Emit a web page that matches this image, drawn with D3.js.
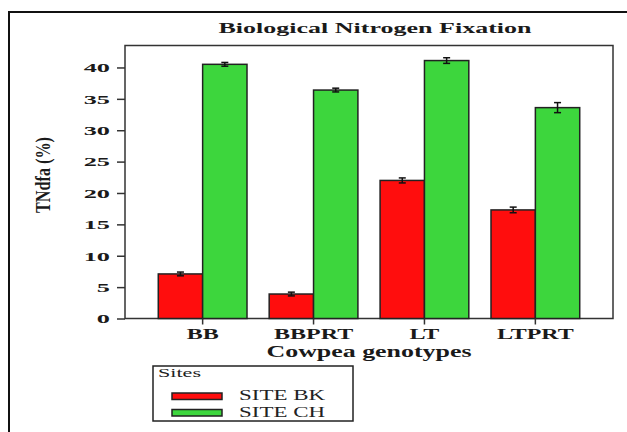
<!DOCTYPE html>
<html>
<head>
<meta charset="utf-8">
<script src="https://cdn.jsdelivr.net/npm/d3@7"></script>
<style>
  html, body { margin: 0; padding: 0; background: #fff; }
  svg { display: block; }
  text { font-family: "Liberation Serif", "DejaVu Serif", serif; }
</style>
</head>
<body>
<svg id="chart" width="627" height="432"></svg>
<script>
// Cowpea genotypes and the two sites
const genotypes = ["BB", "BBPRT", "LT", "LTPRT"];
const sites = ["SITE BK", "SITE CH"];
// TNdfa (%) means per genotype, one array per site
const siteBK = [7.1, 3.9, 22.0, 17.3];
const siteCH = [40.5, 36.4, 41.1, 33.6];
// standard errors
const errBK = [0.3, 0.3, 0.4, 0.45];
const errCH = [0.3, 0.3, 0.45, 0.8];
const yTicks = [0, 5, 10, 15, 20, 25, 30, 35, 40];
const siteColors = ["#ff0d0d", "#3dd63d"];

const svg = d3.select("#chart");

const plot = { left: 125, right: 613, top: 45.5, bottom: 318.5 };

const x0 = d3.scaleBand().domain(genotypes)
  .range([plot.left, plot.right]).paddingInner(0.2).paddingOuter(0.3);
const x1 = d3.scaleBand().domain(sites).range([0, x0.bandwidth()]).padding(0);
const y = d3.scaleLinear().domain([0, 43.5]).range([plot.bottom, plot.top]);
const color = d3.scaleOrdinal().domain(sites).range(siteColors);

// widen glyphs horizontally by factor k (wide, stretched lettering)
function stretch(sel, k) {
  sel.each(function () {
    const w = this.getComputedTextLength();
    d3.select(this).attr("textLength", w * k).attr("lengthAdjust", "spacingAndGlyphs");
  });
}

// outer frame
svg.append("rect")
  .attr("x", 9).attr("y", 12).attr("width", 640).attr("height", 440)
  .attr("fill", "none").attr("stroke", "#111").attr("stroke-width", 2);

// title
svg.append("text")
  .attr("x", 375).attr("y", 33)
  .attr("text-anchor", "middle")
  .attr("font-weight", "bold").attr("font-size", 15)
  .attr("textLength", 313).attr("lengthAdjust", "spacingAndGlyphs")
  .attr("fill", "#1a1a1a")
  .text("Biological Nitrogen Fixation");

// plot frame
svg.append("rect")
  .attr("x", plot.left).attr("y", plot.top)
  .attr("width", plot.right - plot.left).attr("height", plot.bottom - plot.top)
  .attr("fill", "none").attr("stroke", "#333").attr("stroke-width", 1.5);

// bars
const rows = genotypes.map((g, i) => ({
  g,
  vals: [
    { site: sites[0], v: siteBK[i], e: errBK[i] },
    { site: sites[1], v: siteCH[i], e: errCH[i] }
  ]
}));

const groups = svg.append("g").selectAll("g").data(rows).join("g")
  .attr("transform", d => `translate(${x0(d.g)},0)`);

groups.selectAll("rect").data(d => d.vals).join("rect")
  .attr("x", d => x1(d.site))
  .attr("y", d => y(d.v))
  .attr("width", x1.bandwidth())
  .attr("height", d => y(0) - y(d.v))
  .attr("fill", d => color(d.site))
  .attr("stroke", "#222").attr("stroke-width", 1.5);

// error bars
const cx = d => x1(d.site) + x1.bandwidth() / 2;
const eb = groups.selectAll("g.err").data(d => d.vals).join("g").attr("class", "err")
  .attr("stroke", "#111").attr("stroke-width", 1.5);
eb.append("line")
  .attr("x1", cx).attr("x2", cx)
  .attr("y1", d => y(d.v + d.e)).attr("y2", d => y(d.v - d.e));
eb.append("line")
  .attr("x1", d => cx(d) - 3.5).attr("x2", d => cx(d) + 3.5)
  .attr("y1", d => y(d.v + d.e)).attr("y2", d => y(d.v + d.e));
eb.append("line")
  .attr("x1", d => cx(d) - 3.5).attr("x2", d => cx(d) + 3.5)
  .attr("y1", d => y(d.v - d.e)).attr("y2", d => y(d.v - d.e));

// y axis
const yAxis = svg.append("g")
  .attr("transform", `translate(${plot.left},0)`)
  .call(d3.axisLeft(y).tickValues(yTicks).tickSize(8).tickPadding(7));
yAxis.select(".domain").remove();
yAxis.selectAll("line").attr("stroke", "#333").attr("stroke-width", 1.5);
yAxis.selectAll("text")
  .attr("font-family", "Liberation Serif, serif")
  .attr("font-weight", "bold").attr("font-size", 13.5)
  .attr("fill", "#1a1a1a")
  .call(stretch, 1.95);

// x axis
const xAxis = svg.append("g")
  .attr("transform", `translate(0,${plot.bottom})`)
  .call(d3.axisBottom(x0).tickSize(6).tickPadding(3));
xAxis.select(".domain").remove();
xAxis.selectAll("line").attr("stroke", "#333").attr("stroke-width", 1.5);
xAxis.selectAll("text")
  .attr("font-family", "Liberation Serif, serif")
  .attr("font-weight", "bold").attr("font-size", 15)
  .attr("dy", null).attr("y", 20.5)
  .attr("fill", "#1a1a1a")
  .call(stretch, 1.6);

// axis titles
svg.append("text")
  .attr("x", (plot.left + plot.right) / 2).attr("y", 357)
  .attr("text-anchor", "middle")
  .attr("font-weight", "bold").attr("font-size", 16)
  .attr("textLength", 205).attr("lengthAdjust", "spacingAndGlyphs")
  .attr("fill", "#1a1a1a")
  .text("Cowpea genotypes");

svg.append("text")
  .attr("transform", "translate(50,175) rotate(-90)")
  .attr("text-anchor", "middle")
  .attr("font-weight", "bold").attr("font-size", 22)
  .attr("textLength", 76).attr("lengthAdjust", "spacingAndGlyphs")
  .attr("fill", "#1a1a1a")
  .text("TNdfa (%)");

// legend
const lg = svg.append("g").attr("transform", "translate(153,366)");
lg.append("rect").attr("width", 200).attr("height", 55)
  .attr("fill", "#fff").attr("stroke", "#222").attr("stroke-width", 1.5);
lg.append("text").attr("x", 5).attr("y", 11)
  .attr("font-size", 12).attr("fill", "#222")
  .attr("textLength", 43).attr("lengthAdjust", "spacingAndGlyphs")
  .text("Sites");
const items = lg.selectAll("g.item").data(sites).join("g").attr("class", "item")
  .attr("transform", (d, i) => `translate(19,${27 + i * 16.5})`);
items.append("rect").attr("width", 50).attr("height", 6.5)
  .attr("fill", d => color(d)).attr("stroke", "#222").attr("stroke-width", 1.5);
items.append("text").attr("x", 67).attr("y", 7)
  .attr("font-size", 14).attr("fill", "#222")
  .attr("textLength", 86).attr("lengthAdjust", "spacingAndGlyphs")
  .text(d => d);
</script>
</body>
</html>
